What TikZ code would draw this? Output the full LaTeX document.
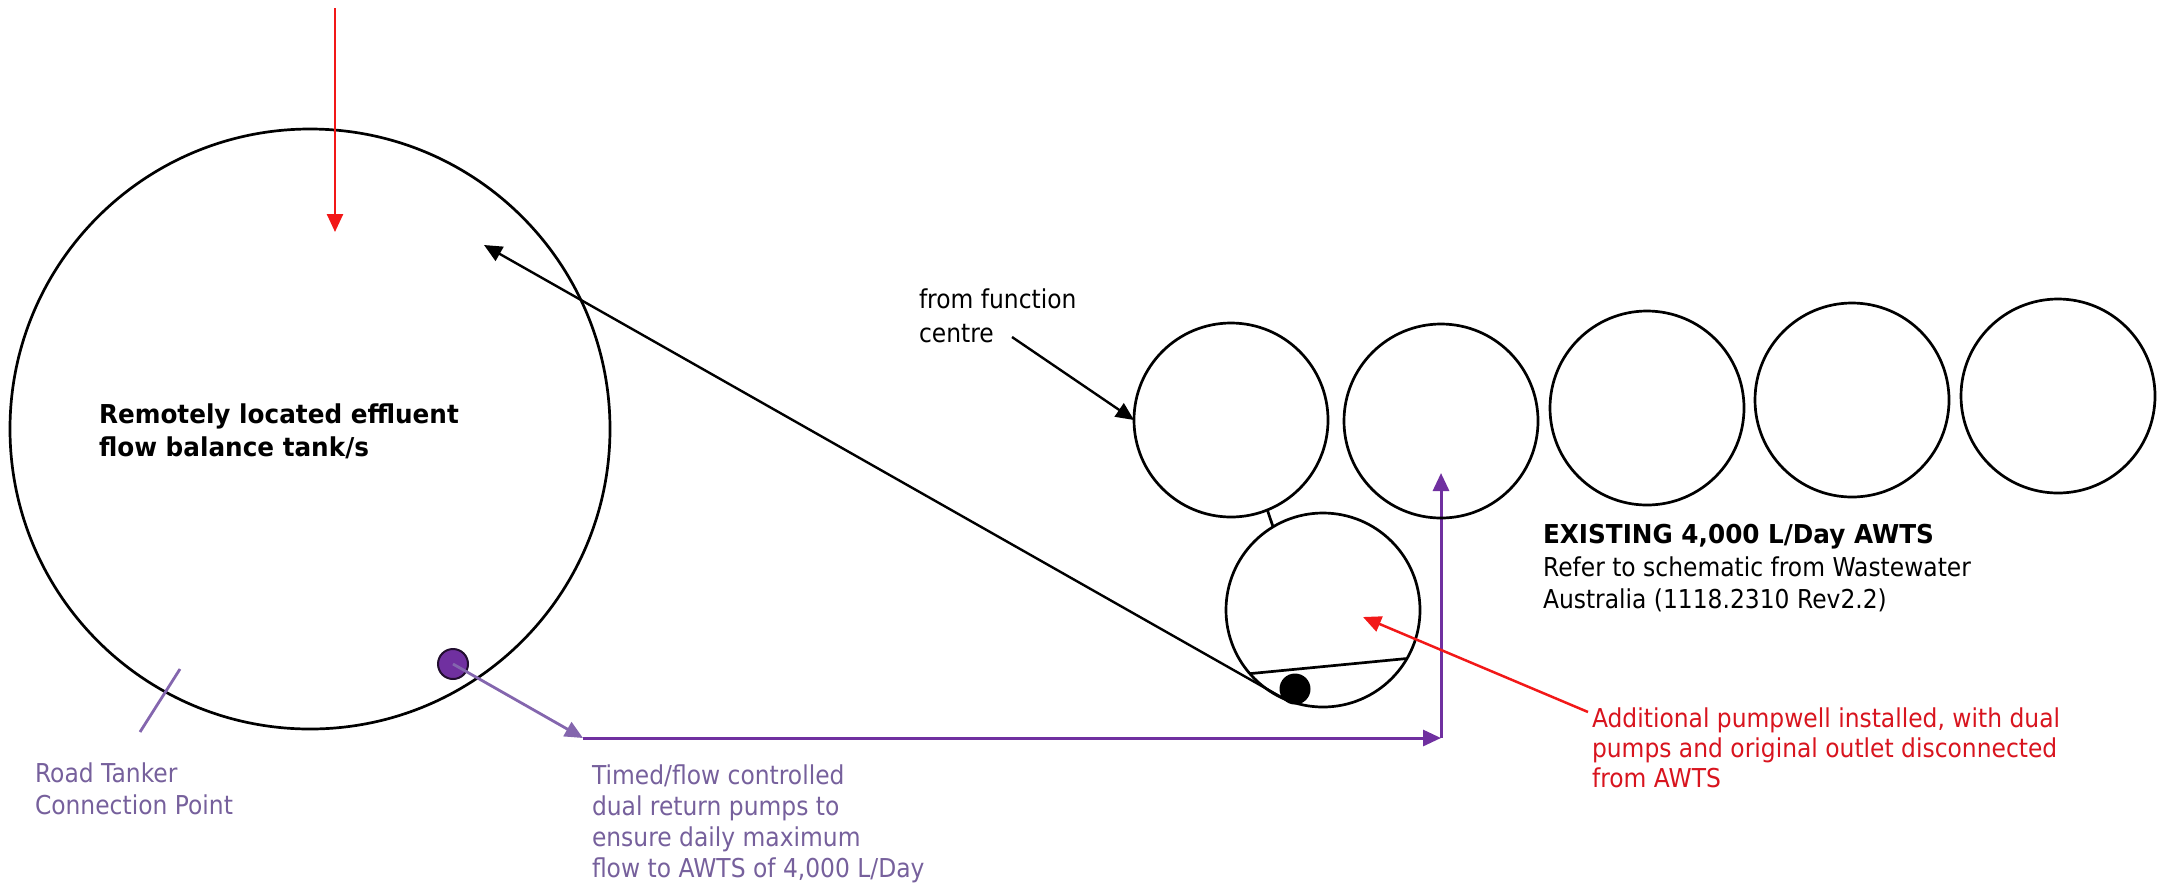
\documentclass[tikz,border=0pt]{standalone}
\usepackage{fontspec}
\setmainfont{DejaVu Sans}[FakeStretch=0.9]
\newfontfamily\boldfont{DejaVu Sans}[FakeStretch=0.95]
\usetikzlibrary{arrows.meta}
\definecolor{purpline}{HTML}{7030A0}
\definecolor{purplight}{HTML}{8466AE}
\definecolor{purptext}{HTML}{76609C}
\definecolor{redline}{HTML}{F21818}
\definecolor{redtext}{HTML}{D8141E}
\begin{document}
\begin{tikzpicture}[x=0.5pt,y=-0.5pt,
  tank/.style={circle,draw=black,line width=1.35pt,inner sep=0pt,outer sep=0pt,minimum size=97pt},
  lbl/.style={anchor=base west,inner sep=0pt,outer sep=0pt,font=\fontsize{13pt}{16pt}\selectfont},
  boldlbl/.style={lbl,font=\fontsize{13pt}{16pt}\selectfont\boldfont\bfseries},
  tip/.style={-{Triangle[length=9pt,width=8pt]}},
  blackarrow/.style={tip,draw=black,line width=1.2pt},
  redarrow/.style={tip,draw=redline,line width=1.25pt},
  purparrow/.style={tip,draw=purpline,line width=1.5pt},
  purpthin/.style={tip,draw=purplight,line width=1.4pt}]
\useasboundingbox (0,0) rectangle (2157,890);

% remote balance tank
\node[tank,minimum size=300pt] (bal) at (310,429) {};
\coordinate (inflow) at (335,8);
\coordinate (inflowtip) at (335,232);
\draw[redarrow] (inflow) -- (inflowtip);
\node[boldlbl] (ball1) at (99,423) {Remotely located effluent};
\node[boldlbl] (ball2) at (99,456) {flow balance tank/s};

% road tanker connection
\coordinate (rt1) at (140,732);
\coordinate (rt2) at (180,669);
\draw[draw=purplight,line width=1.4pt] (rt1) -- (rt2);
\node[lbl,text=purptext] (rtl1) at (35,782) {Road Tanker};
\node[lbl,text=purptext] (rtl2) at (35,814) {Connection Point};

% pumps in balance tank
\node[circle,fill=purpline,draw=black!70!purpline,line width=1pt,minimum size=15pt,inner sep=0pt] (pump) at (453,664) {};
\coordinate (c1) at (583,738);
\coordinate (c2) at (1441,738);
\coordinate (c3) at (1441,473);
\draw[purpthin] (pump.center) -- (c1);
\draw[purparrow] (c1) -- (c2);
\draw[purparrow] (c2) -- (c3);
\node[lbl,text=purptext] (pt1) at (592,784) {Timed/flow controlled};
\node[lbl,text=purptext] (pt2) at (592,815) {dual return pumps to};
\node[lbl,text=purptext] (pt3) at (592,846) {ensure daily maximum};
\node[lbl,text=purptext] (pt4) at (592,877) {flow to AWTS of 4,000 L/Day};

% existing AWTS tanks
\node[tank] (A) at (1231,420) {};
\node[tank] (B) at (1441,421) {};
\node[tank] (C) at (1647,408) {};
\node[tank] (D) at (1852,400) {};
\node[tank] (E) at (2058,396) {};

% additional pumpwell
\node[tank] (P) at (1323,610) {};
\draw[line width=1.35pt] (A.-68) -- (P.121);
\draw[line width=1.35pt] (P.-139) -- (P.-30);
\node[circle,fill=black,minimum size=15.5pt,inner sep=0pt] (pwdot) at (1295,689) {};
\coordinate (retip) at (484,245);
\draw[blackarrow] (P.-113) -- (retip);

% from function centre
\node[lbl] (fc1) at (919,308) {from function};
\node[lbl] (fc2) at (919,342) {centre};
\coordinate (fcs) at (1012,337);
\draw[blackarrow] (fcs) -- (A.west);

% labels
\node[boldlbl] (ex1) at (1543,543) {EXISTING 4,000 L/Day AWTS};
\node[lbl] (ex2) at (1543,576) {Refer to schematic from Wastewater};
\node[lbl] (ex3) at (1543,608) {Australia (1118.2310 Rev2.2)};

\coordinate (rs) at (1588,712);
\coordinate (rtp) at (1363,617);
\draw[redarrow] (rs) -- (rtp);
\node[lbl,text=redtext] (ad1) at (1592,727) {Additional pumpwell installed, with dual};
\node[lbl,text=redtext] (ad2) at (1592,757) {pumps and original outlet disconnected};
\node[lbl,text=redtext] (ad3) at (1592,787) {from AWTS};
\end{tikzpicture}
\end{document}
